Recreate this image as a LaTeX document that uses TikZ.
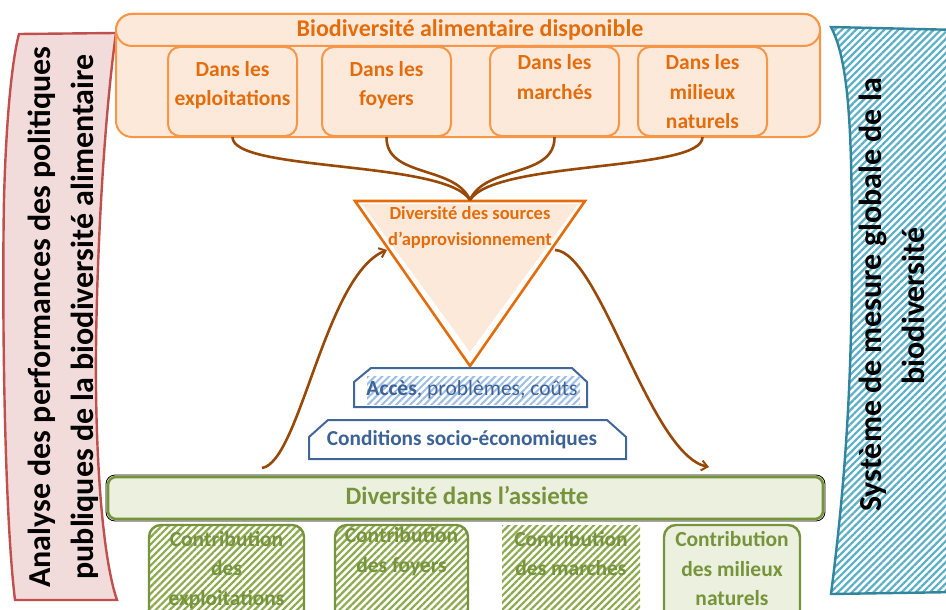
\documentclass[tikz,border=0pt]{standalone}
\usepackage{fontspec}
\setmainfont{Carlito}
\usetikzlibrary{patterns.meta,arrows.meta}
\definecolor{orfill}{HTML}{FDE9D9}
\definecolor{orline}{HTML}{F79646}
\definecolor{ortext}{HTML}{E46C0A}
\definecolor{grfill}{HTML}{EBF1DE}
\definecolor{grline}{HTML}{77933C}
\definecolor{grhatch}{HTML}{8DAA4E}
\definecolor{blline}{HTML}{41679A}
\definecolor{bltext}{HTML}{3D6296}
\definecolor{blhatch}{HTML}{9DBDE6}
\definecolor{rdfill}{HTML}{F2DCDB}
\definecolor{rdline}{HTML}{C0504D}
\definecolor{tlline}{HTML}{31859C}
\definecolor{tlhatch}{HTML}{5BAFC6}
\definecolor{brown}{HTML}{984807}
\tikzset{
  orbox/.style={draw=orline, fill=orfill, line width=2pt, rounded corners=12pt,
    minimum width=129pt, minimum height=89pt, inner sep=0pt},
  ortxt/.style={text=ortext, font=\bfseries\fontsize{21.5}{29.5}\selectfont, align=center},
  grtxt/.style={text=grline, font=\bfseries\fontsize{21.5}{29.5}\selectfont, align=center},
  grhatchbox/.style={preaction={fill=white}, pattern={Lines[angle=45,distance=5pt,line width=2.2pt]}, pattern color=grhatch},
  brcurve/.style={draw=brown, line width=2.6pt},
  brarrow/.style={brcurve, -{Straight Barb[length=6pt,width=10pt,line width=2pt]}},
  bantxt/.style={font=\bfseries\fontsize{32}{43}\selectfont, align=center, rotate=90},
}
\begin{document}
\begin{tikzpicture}[x=1pt,y=-1pt]
\useasboundingbox (0,0) rectangle (946,610);
\clip (0,0) rectangle (946,610);

% left banner
\draw[draw=rdline, fill=rdfill, line width=2.4pt]
  (19,34) -- (116,33) .. controls (104,120) and (97,250) .. (96,350)
  .. controls (95,460) and (103,560) .. (117,600) -- (15,600)
  .. controls (4,510) and (2,300) .. (4,200) .. controls (6,120) and (12,60) .. (19,34) -- cycle;
\node[bantxt] (leftban) at (63,317) {Analyse des performances des politiques\\publiques de la biodiversité alimentaire};

% right banner
\draw[draw=tlline, line width=2.4pt, preaction={fill=white}, pattern={Lines[angle=45,distance=5pt,line width=2.2pt]}, pattern color=tlhatch]
  (831,27) -- (960,30) -- (960,592) -- (831,594)
  .. controls (843,500) and (852,400) .. (852,250)
  .. controls (852,120) and (848,60) .. (831,27) -- cycle;
\node[bantxt] (rightban) at (873,295) {Système de mesure globale de la};
\node[bantxt] (rightban2) at (913,306) {biodiversité};

% top container
\draw[draw=orline, fill=orfill, line width=2pt, rounded corners=16pt] (116,14) rectangle (820,137);
\draw[draw=orline, fill=orfill, line width=2pt, rounded corners=16pt] (116,14) rectangle (820,46);
\node[text=ortext, font=\bfseries\fontsize{24}{28}\selectfont] (head) at (470,30) {Biodiversité alimentaire disponible};

\node[orbox] (expl) at (232.5,91.5) {};
\node[orbox] (foy) at (386.5,91.5) {};
\node[orbox] (mar) at (554.5,91.5) {};
\node[orbox] (mil) at (702.5,91.5) {};
\node[ortxt] at (232.5,85) {Dans les\\exploitations};
\node[ortxt] at (386.5,85) {Dans les\\foyers};
\node[ortxt] at (554.5,77) {Dans les\\marchés};
\node[ortxt] at (702.5,92) {Dans les\\milieux\\naturels};

% triangle
\coordinate (tritop) at (470,200);
\coordinate (trileft) at (387,250);
\coordinate (triright) at (555,250);
\fill[orfill] (362,204) -- (578,204) -- (470,352) -- cycle;
\draw[draw=ortext, line width=2.6pt, line join=miter] (355,201) -- (585,201) -- (470,366) -- cycle;
\node[text=ortext, font=\bfseries\fontsize{18.5}{26}\selectfont, align=center] (tri) at (470,227) {Diversité des sources\\d’approvisionnement};

% brown curves top
\draw[brcurve] (expl.south) .. controls (232,172) and (445,160) .. (tritop);
\draw[brcurve] (foy.south) .. controls (386,178) and (455,165) .. (tritop);
\draw[brcurve] (mar.south) .. controls (555,178) and (485,165) .. (tritop);
\draw[brcurve] (mil.south) .. controls (703,172) and (495,160) .. (tritop);

% access boxes
\draw[draw=blline, line width=2pt, fill=white] (354,382) -- (371,368) -- (572,368) -- (587,382) -- (587,407) -- (354,407) -- cycle;
\fill[preaction={fill=white}, pattern={Lines[angle=45,distance=5pt,line width=2pt]}, pattern color=blhatch] (367,376) rectangle (580,404);
\node[text=bltext, font=\fontsize{21.5}{24}\selectfont] (acc) at (472,390) {\textbf{Accès}, problèmes, coûts};
\draw[draw=blline, line width=2pt, fill=white] (309,437) -- (328,420) -- (607,420) -- (626,437) -- (626,459) -- (309,459) -- cycle;
\node[text=bltext, font=\bfseries\fontsize{21.3}{24}\selectfont] (cond) at (462,440) {Conditions socio-économiques};

% bottom bar
\draw[draw=black, line width=0.8pt, rounded corners=9pt] (106,475) rectangle (825,521);
\draw[draw=grline, fill=grfill, line width=2.6pt, rounded corners=8pt] (108,477) rectangle (823,519);
\node[text=grline, font=\bfseries\fontsize{25}{28}\selectfont] (assiette) at (467,495) {Diversité dans l’assiette};

% big brown curves
\coordinate (lstart) at (262,468);
\coordinate (rend) at (709,467);
\draw[brarrow] (lstart) .. controls (300,462) and (325,275) .. (trileft);
\draw[brarrow] (triright) .. controls (600,252) and (650,455) .. (rend);

% contributions
\draw[draw=grline, line width=2.4pt, rounded corners=12pt, grhatchbox] (149,525) rectangle (304,630);
\draw[draw=grline, line width=2.4pt, rounded corners=12pt, grhatchbox] (335,525) rectangle (468,630);
\fill[grhatchbox] (502,525) rectangle (640,630);
\draw[draw=grline, line width=2.4pt, rounded corners=12pt, fill=grfill] (664,525) rectangle (800,630);
\node[grtxt] (c1) at (226.5,570) {Contribution\\des\\exploitations};
\node[grtxt] (c2) at (401.5,551.5) {Contribution\\des foyers};
\node[grtxt] (c3) at (571,553.5) {Contribution\\des marchés};
\node[grtxt] (c4) at (732,569) {Contribution\\des milieux\\naturels};
\end{tikzpicture}
\end{document}
